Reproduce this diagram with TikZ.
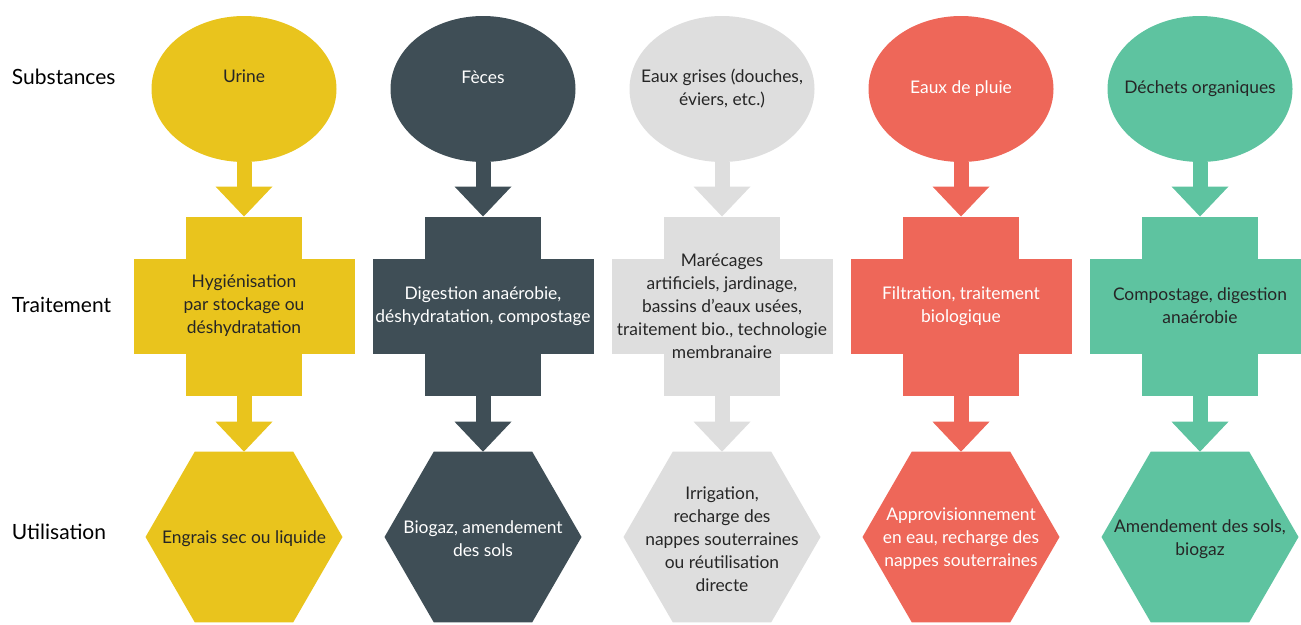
\documentclass[tikz,border=0pt]{standalone}
\usepackage{fontspec}
\setmainfont{Lato}
\usetikzlibrary{shapes.geometric, arrows.meta}

\definecolor{jaune}{HTML}{E9C41D}
\definecolor{ardoise}{HTML}{3F4E56}
\definecolor{gris}{HTML}{DEDEDE}
\definecolor{corail}{HTML}{EE6759}
\definecolor{vert}{HTML}{5EC3A0}
\definecolor{encre}{HTML}{262626}

\begin{document}
\begin{tikzpicture}[x=1pt, y=-1pt,
    every node/.style={inner sep=0pt, outer sep=0pt, align=center, font=\fontsize{17.4}{23}\selectfont},
    substance/.style={ellipse, minimum width=185pt, minimum height=146pt},
    barre/.style={rectangle, minimum width=116pt, minimum height=179pt},
    traitement/.style={rectangle, minimum width=221pt, minimum height=95pt},
    usage/.style={regular polygon, regular polygon sides=6, minimum size=197pt},
    fleche/.style={line width=15pt, -{Triangle[width=57pt, length=30pt, line width=0pt]}},
    sombre/.style={text=encre},
    clair/.style={text=white},
    etape/.style={anchor=west, text=black, font=\fontsize{21}{25}\selectfont}]
    \useasboundingbox (0,0) rectangle (1301,624);

    \node[etape] (l1) at (12,77) {Substances};
    \node[etape] (l2) at (12,305) {Traitement};
    \node[etape] (l3) at (12,532) {Utilisation};

    % urine
    \node[substance, fill=jaune] (s1) at (244,89) {};
    \node[barre, fill=jaune] (b1) at (244,306) {};
    \node[traitement, fill=jaune] (t1) at (244,306) {};
    \node[usage, fill=jaune] (u1) at (244,537) {};
    \draw[fleche, jaune] (s1) -- (b1);
    \draw[fleche, jaune] (b1) -- (u1);
    \node[sombre, yshift=13pt] (ts1) at (s1) {Urine};
    \node[sombre] (tt1) at (t1) {Hygiénisation\\par stockage ou\\déshydratation};
    \node[sombre, yshift=-2pt] (tu1) at (u1) {Engrais sec ou liquide};

    % feces
    \node[substance, fill=ardoise] (s2) at (483,89) {};
    \node[barre, fill=ardoise] (b2) at (483,306) {};
    \node[traitement, fill=ardoise] (t2) at (483,306) {};
    \node[usage, fill=ardoise] (u2) at (483,537) {};
    \draw[fleche, ardoise] (s2) -- (b2);
    \draw[fleche, ardoise] (b2) -- (u2);
    \node[clair, yshift=12pt] (ts2) at (s2) {Fèces};
    \node[clair] (tt2) at (t2) {Digestion anaérobie,\\déshydratation, compostage};
    \node[clair, yshift=-2pt] (tu2) at (u2) {Biogaz, amendement\\des sols};

    % eaux grises
    \node[substance, fill=gris] (s3) at (722,89) {};
    \node[barre, fill=gris] (b3) at (722,306) {};
    \node[traitement, fill=gris] (t3) at (722,306) {};
    \node[usage, fill=gris] (u3) at (722,537) {};
    \draw[fleche, gris] (s3) -- (b3);
    \draw[fleche, gris] (b3) -- (u3);
    \node[sombre] (ts3) at (s3) {Eaux grises (douches,\\éviers, etc.)};
    \node[sombre] (tt3) at (t3) {Marécages\\artificiels, jardinage,\\bassins d’eaux usées,\\traitement bio., technologie\\membranaire};
    \node[sombre, yshift=-2pt] (tu3) at (u3) {Irrigation,\\recharge des\\nappes souterraines\\ou réutilisation\\directe};

    % eaux de pluie
    \node[substance, fill=corail] (s4) at (961,89) {};
    \node[barre, fill=corail] (b4) at (961,306) {};
    \node[traitement, fill=corail] (t4) at (961,306) {};
    \node[usage, fill=corail] (u4) at (961,537) {};
    \draw[fleche, corail] (s4) -- (b4);
    \draw[fleche, corail] (b4) -- (u4);
    \node[clair] (ts4) at (s4) {Eaux de pluie};
    \node[clair] (tt4) at (t4) {Filtration, traitement\\biologique};
    \node[clair, yshift=-2pt] (tu4) at (u4) {Approvisionnement\\en eau, recharge des\\nappes souterraines};

    % dechets organiques
    \node[substance, fill=vert] (s5) at (1200,89) {};
    \node[barre, fill=vert] (b5) at (1200,306) {};
    \node[traitement, fill=vert] (t5) at (1200,306) {};
    \node[usage, fill=vert] (u5) at (1200,537) {};
    \draw[fleche, vert] (s5) -- (b5);
    \draw[fleche, vert] (b5) -- (u5);
    \node[sombre] (ts5) at (s5) {Déchets organiques};
    \node[sombre] (tt5) at (t5) {Compostage, digestion\\anaérobie};
    \node[sombre, yshift=-2pt] (tu5) at (u5) {Amendement des sols,\\biogaz};
\end{tikzpicture}
\end{document}
